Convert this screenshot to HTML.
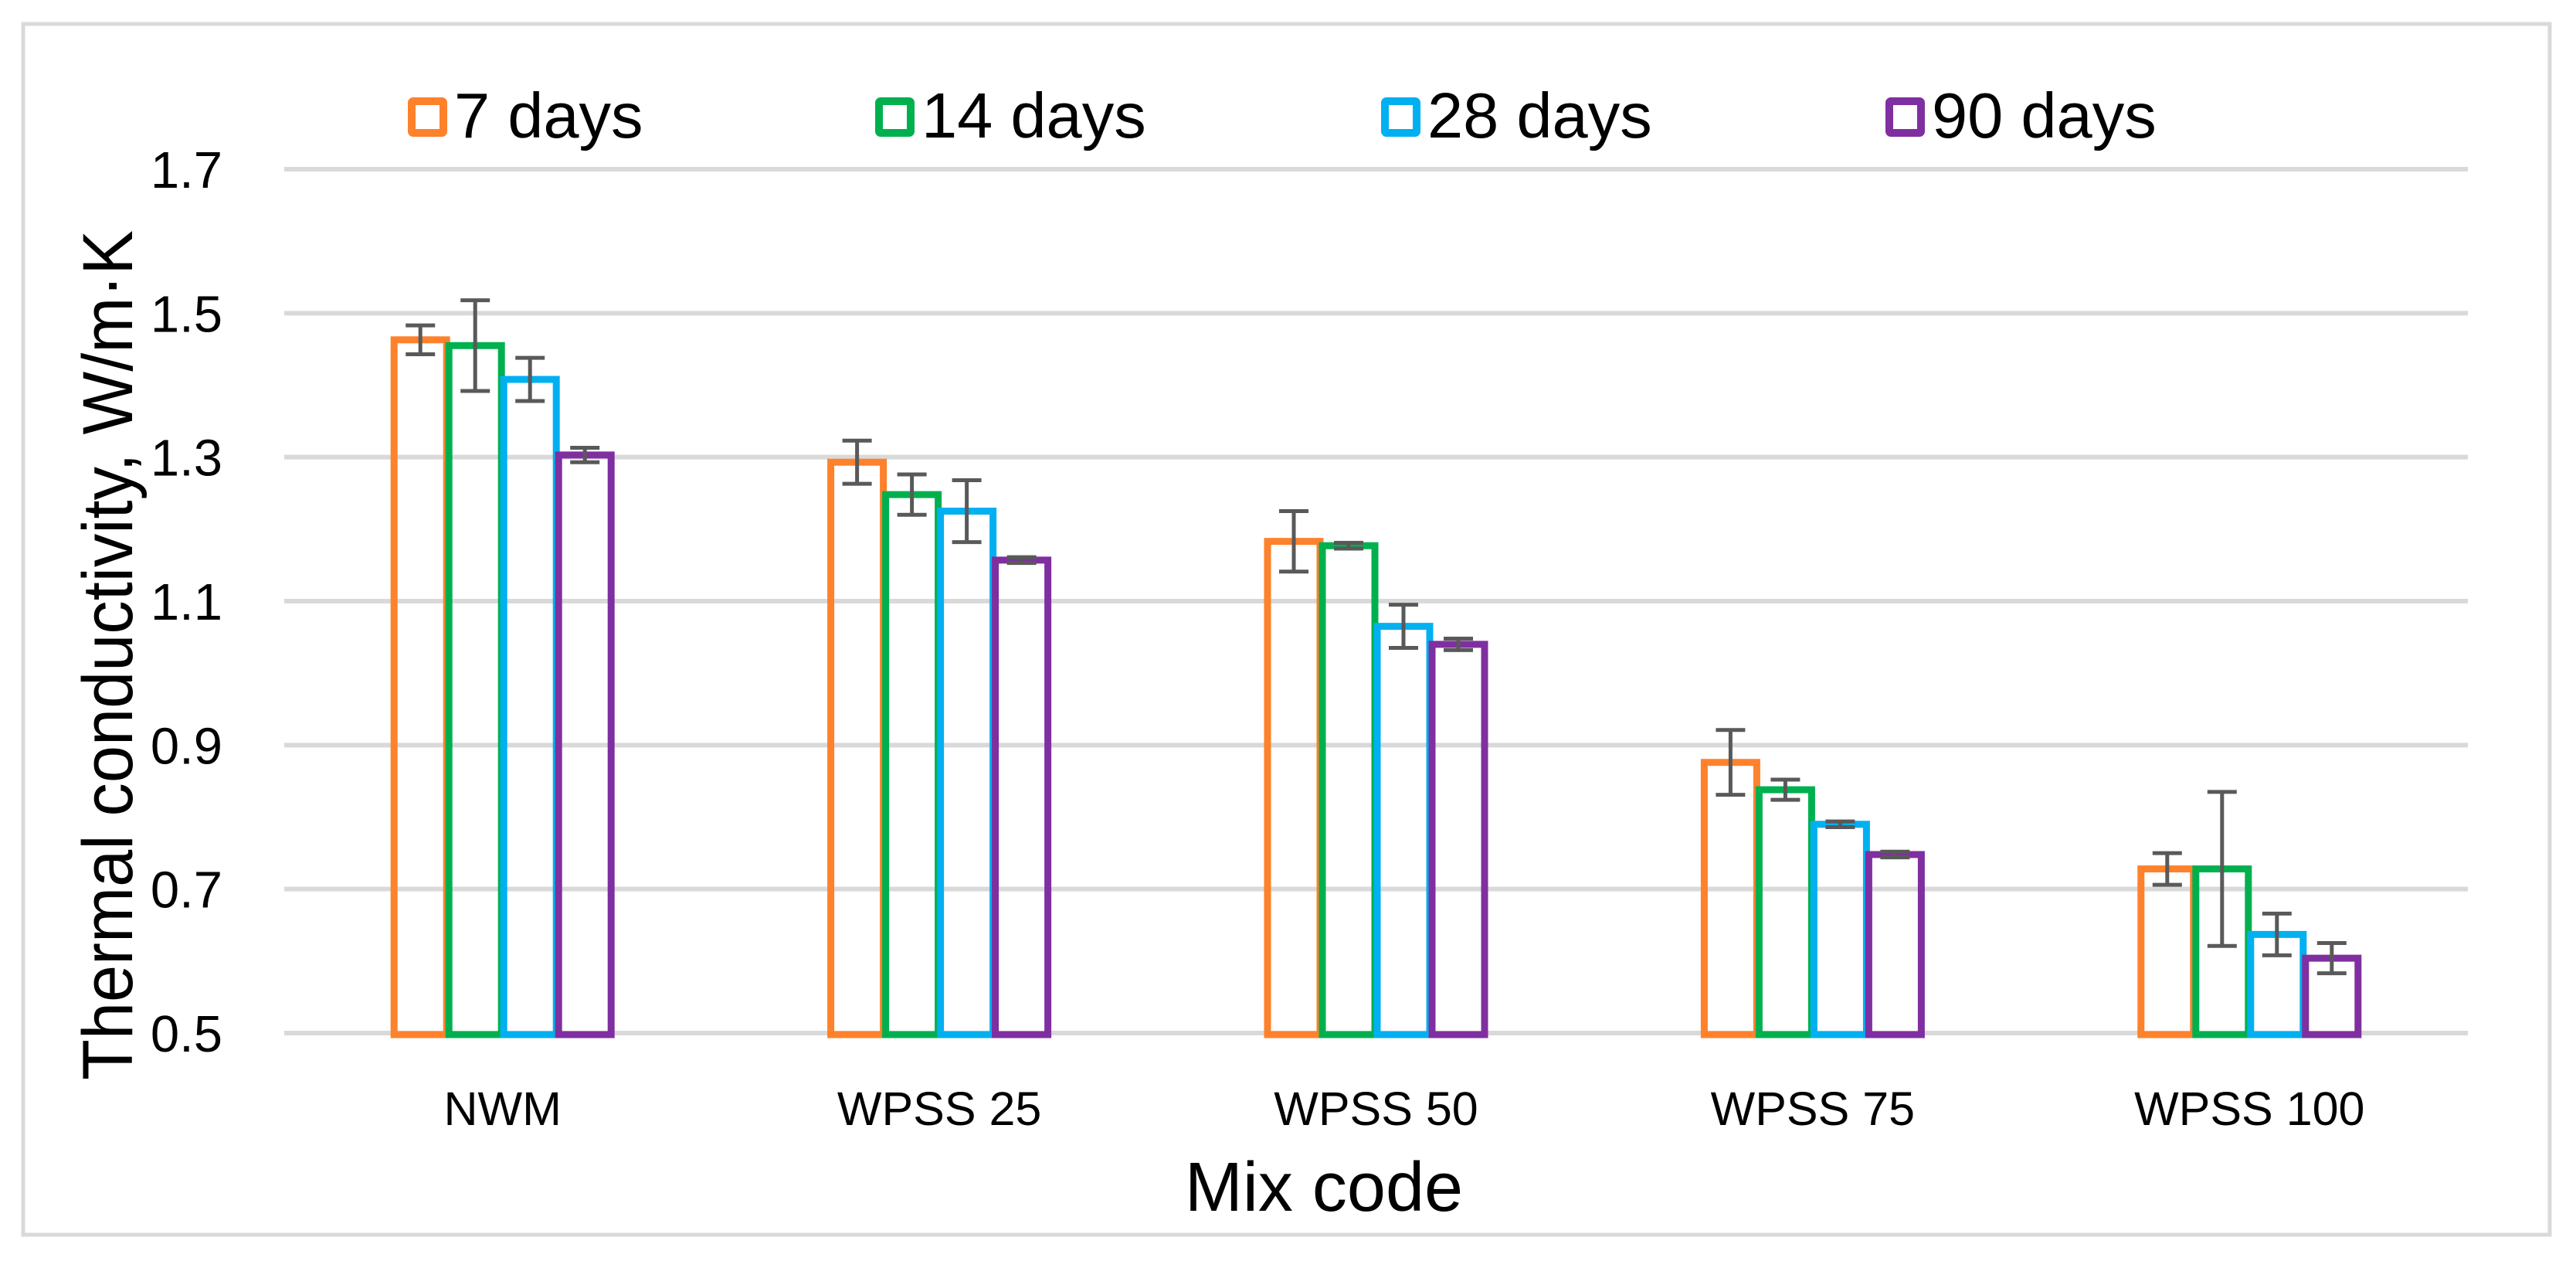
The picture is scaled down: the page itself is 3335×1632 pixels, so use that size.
<!DOCTYPE html>
<html><head><meta charset="utf-8"><style>
html,body{margin:0;padding:0;background:#fff;}
svg{display:block;font-family:"Liberation Sans",sans-serif;}
</style></head><body>
<svg id="chart" width="3335" height="1632" viewBox="0 0 3335 1632" xmlns="http://www.w3.org/2000/svg">
<rect x="30" y="31" width="3271" height="1567" fill="#fff" stroke="#d9d9d9" stroke-width="5"/>
<g id="grid"></g><g id="bars"></g><g id="errs"></g><g id="labels"></g><g id="legend"></g>
<text transform="translate(171,848) rotate(-90)" text-anchor="middle" font-size="92" textLength="1100" lengthAdjust="spacingAndGlyphs">Thermal conductivity,  W/m·K</text>
<text x="1714" y="1567" text-anchor="middle" font-size="90">Mix code</text>
</svg>
<script>
const categories = ["NWM", "WPSS 25", "WPSS 50", "WPSS 75", "WPSS 100"];
const seriesNames = ["7 days", "14 days", "28 days", "90 days"];
const d7 = [1.463, 1.293, 1.183, 0.876, 0.728];
const d14 = [1.455, 1.248, 1.177, 0.838, 0.728];
const d28 = [1.408, 1.225, 1.065, 0.790, 0.637];
const d90 = [1.303, 1.157, 1.040, 0.748, 0.604];
const e7 = [0.020, 0.030, 0.042, 0.045, 0.022];
const e14 = [0.063, 0.028, 0.004, 0.014, 0.107];
const e28 = [0.030, 0.043, 0.030, 0.004, 0.029];
const e90 = [0.010, 0.004, 0.008, 0.004, 0.021];
const yTicks = [0.5, 0.7, 0.9, 1.1, 1.3, 1.5, 1.7];
const yTickLabels = ["0.5", "0.7", "0.9", "1.1", "1.3", "1.5", "1.7"];

const NS = "http://www.w3.org/2000/svg";
const colors = ["#fe812b", "#00b04f", "#00b0f0", "#7f2fa0"];
const values = [d7, d14, d28, d90];
const errors = [e7, e14, e28, e90];
const X0 = 368, X1 = 3195, Y0 = 1337, Y1 = 219, VMIN = 0.5, VMAX = 1.7;
const y = v => Y0 - (v - VMIN) / (VMAX - VMIN) * (Y0 - Y1);
const band = (X1 - X0) / categories.length;
const xc = i => X0 + band * (i + 0.5);
const pitch = 71, bw = 68;
function mk(tag, attrs, parent) {
  const el = document.createElementNS(NS, tag);
  for (const k in attrs) el.setAttribute(k, attrs[k]);
  parent.appendChild(el);
  return el;
}
const grid = document.getElementById('grid');
const labels = document.getElementById('labels');
yTicks.forEach((t, i) => {
  const g = mk('line', {x1: X0, x2: X1, y1: y(t), y2: y(t), stroke: '#d9d9d9', 'stroke-width': 6}, grid);
  
  
  const tl = mk('text', {x: 288, y: y(t) + 24, 'text-anchor': 'end', 'font-size': 67}, labels);
  tl.textContent = yTickLabels[i];
  
  
});
categories.forEach((c, i) => {
  const t = mk('text', {x: xc(i), y: 1456, 'text-anchor': 'middle', 'font-size': 61}, labels);
  t.textContent = c;
  
  
});
const barsG = document.getElementById('bars');
const errG = document.getElementById('errs');
values.forEach((ser, s) => {
  ser.forEach((v, i) => {
    const cx = xc(i) + (s - 1.5) * pitch;
    const top = y(v);
    const r = mk('rect', {x: cx - bw / 2, y: top, width: bw, height: Y0 + 2 - top, fill: 'none', stroke: colors[s], 'stroke-width': 9}, barsG);
    
    
    const e = errors[s][i];
    const eg = mk('g', {stroke: '#595959', 'stroke-width': 5}, errG);
    
    
    mk('line', {x1: cx, x2: cx, y1: y(v + e), y2: y(v - e)}, eg);
    mk('line', {x1: cx - 19, x2: cx + 19, y1: y(v + e), y2: y(v + e)}, eg);
    mk('line', {x1: cx - 19, x2: cx + 19, y1: y(v - e), y2: y(v - e)}, eg);
  });
});
const legend = document.getElementById('legend');
const legX = [528, 1133, 1788, 2441];
seriesNames.forEach((n, s) => {
  const g = mk('g', {}, legend);
  
  
  mk('rect', {x: legX[s] + 5, y: 131, width: 41, height: 41, fill: '#fff', stroke: colors[s], 'stroke-width': 10, rx: 2}, g);
  const t = mk('text', {x: legX[s] + 60, y: 178, 'font-size': 83}, g);
  t.textContent = n;
});
</script>
</body></html>
